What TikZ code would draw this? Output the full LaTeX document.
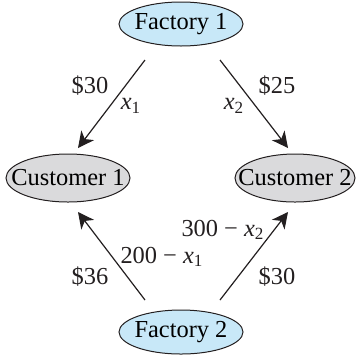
\documentclass[tikz,border=0pt]{standalone}
\usepackage{fontspec}
\setmainfont{Liberation Serif}
\usetikzlibrary{shapes.geometric,arrows.meta,calc}
\definecolor{factfill}{RGB}{200,232,248}
\definecolor{custfill}{RGB}{218,218,220}
\definecolor{edge}{RGB}{35,31,32}
\tikzset{
  oval/.style={ellipse, draw=edge, line width=0.5pt, inner sep=0pt, outer sep=0pt,
    minimum width=62pt, minimum height=22pt, font=\fontsize{12.2}{14}\selectfont},
  fact/.style={oval, fill=factfill},
  cust/.style={oval, fill=custfill, minimum height=24pt},
  arr/.style={draw=edge, line width=0.6pt, -{Stealth[length=8pt,width=8pt,inset=2.4pt]}},
  lbl/.style={inner sep=0pt, font=\fontsize{12.2}{14}\selectfont, text=edge}
}
\newcommand{\ctext}[1]{\makebox[0pt]{#1}}
\begin{document}
\begin{tikzpicture}[x=0.5pt,y=-0.5pt]
\useasboundingbox (0,0) rectangle (357,354);
\node[fact] (f1) at (181,24) {\ctext{Factory 1}};
\node[cust] (c1) at (68,178) {\ctext{Customer 1}};
\node[cust, minimum width=60pt] (c2) at (295,178) {\ctext{Customer 2}};
\node[fact] (f2) at (181,332) {\ctext{Factory 2}};
\draw[arr] ($(f1)+(-36,36)$) -- ($(c1)+(10,-30)$);
\draw[arr] ($(f1)+(39,36)$) -- ($(c2)+(-7,-30)$);
\draw[arr] ($(f2)+(-36,-32)$) -- ($(c1)+(10,34)$);
\draw[arr] ($(f2)+(39,-32)$) -- ($(c2)+(-7,34)$);
\node[lbl] (l1) at (90,86) {\$30};
\node[lbl] (l2) at (131,106) {\textit{x}\textsubscript{1}};
\node[lbl] (l3) at (234,106) {\textit{x}\textsubscript{2}};
\node[lbl] (l4) at (277,86) {\$25};
\node[lbl] (l5) at (223,230) {300 − \textit{x}\textsubscript{2}};
\node[lbl] (l6) at (162,257) {200 − \textit{x}\textsubscript{1}};
\node[lbl] (l7) at (90,277) {\$36};
\node[lbl] (l8) at (277,277) {\$30};
\end{tikzpicture}
\end{document}
